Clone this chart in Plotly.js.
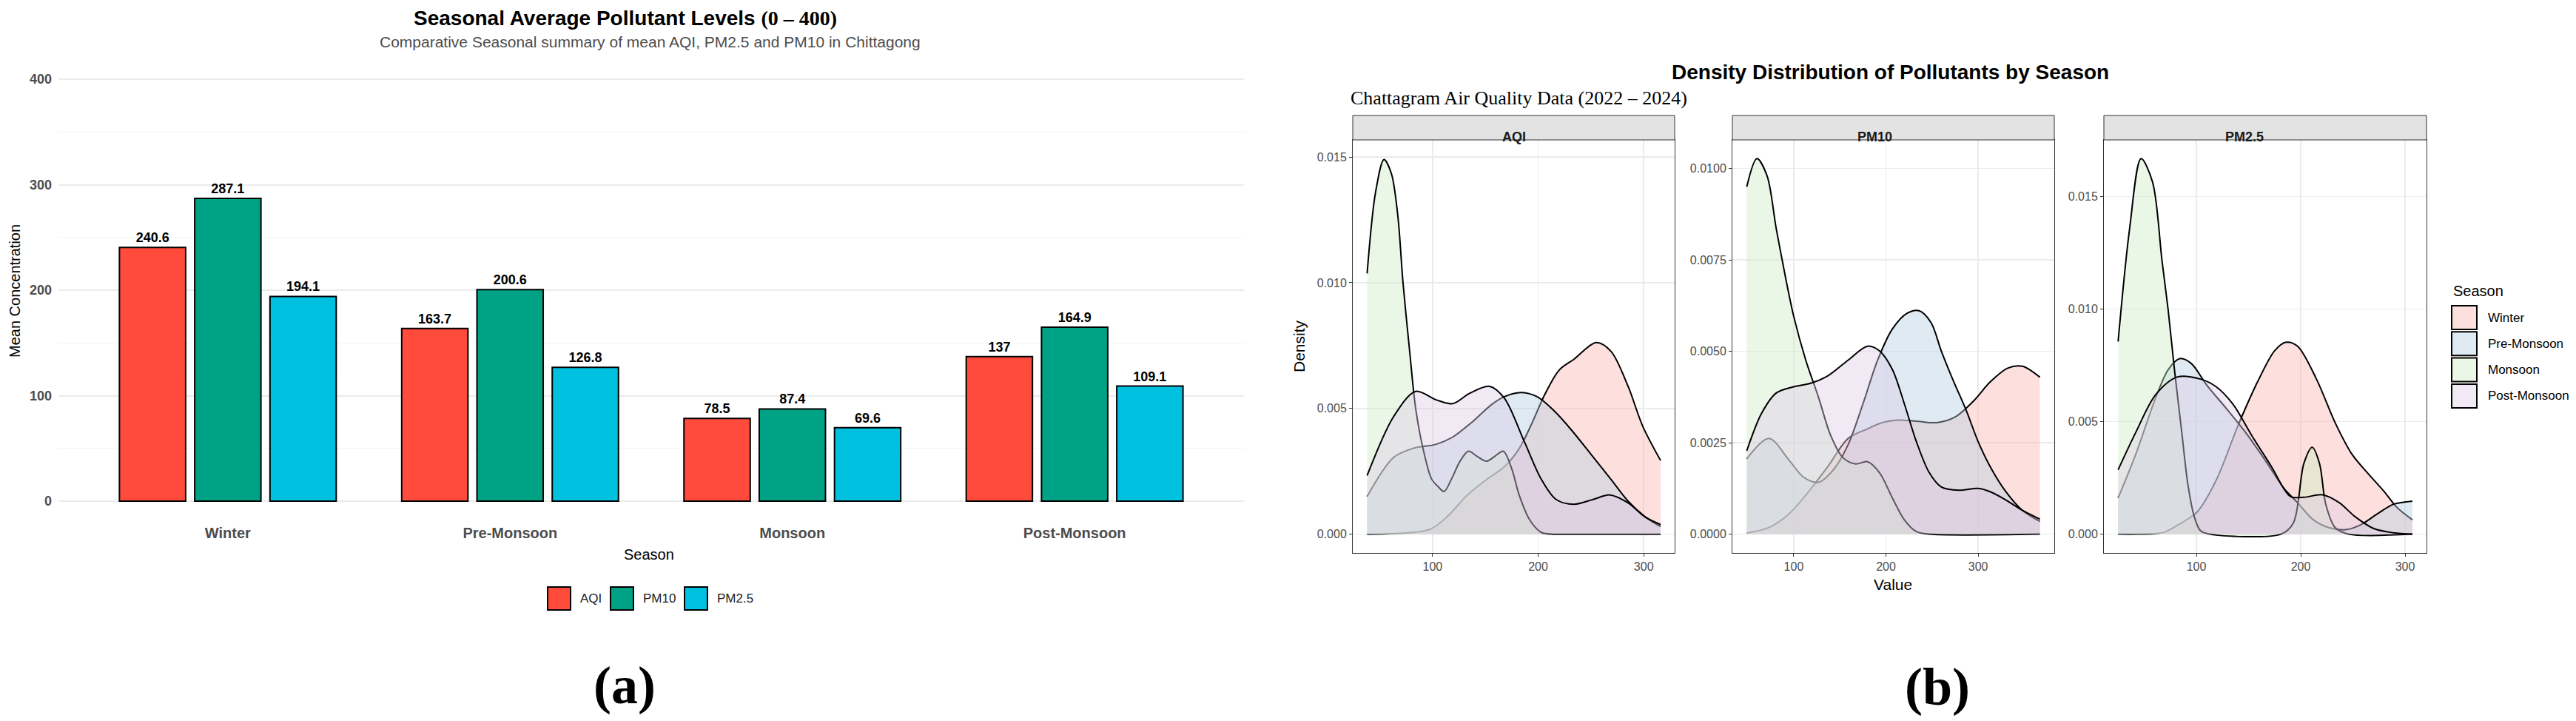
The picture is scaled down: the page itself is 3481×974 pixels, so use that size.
<!DOCTYPE html>
<html>
<head>
<meta charset="utf-8">
<script src="https://cdn.plot.ly/plotly-3.0.1.min.js"></script>
<style>
  html, body { margin: 0; padding: 0; background: #fff; }
  #chart { width: 3481px; height: 974px; }
</style>
</head>
<body>
<div id="chart"></div>
<script>
// ---- (a) seasonal means ----
const seasons = ["Winter", "Pre-Monsoon", "Monsoon", "Post-Monsoon"];
const aqiMean = [240.6, 163.7, 78.5, 137];
const pm10Mean = [287.1, 200.6, 87.4, 164.9];
const pm25Mean = [194.1, 126.8, 69.6, 109.1];
const pollutants = ["AQI", "PM10", "PM2.5"];
const barColors = ["#FF4B3B", "#00A286", "#00C0E0"];

// ---- (b) density curves ----
const aqiWinterX = [38, 75, 98, 114, 133, 152, 168, 182, 194, 206, 220, 234, 255, 269, 285, 299, 316];
const aqiWinterY = [0, 0.00005, 0.0002, 0.0007, 0.00156, 0.0022, 0.00268, 0.0034, 0.0044, 0.00553, 0.00653, 0.00696, 0.00762, 0.00727, 0.0059, 0.0043, 0.00293];
const aqiPreX = [38, 63, 82, 103, 119, 138, 156, 168, 182, 199, 215, 231, 250, 269, 285, 301, 316];
const aqiPreY = [0.0015, 0.00305, 0.00342, 0.00357, 0.00386, 0.00448, 0.00516, 0.00547, 0.00563, 0.00547, 0.00491, 0.00417, 0.00318, 0.00218, 0.00132, 0.0007, 0.0003];
const aqiMonX = [38, 46, 54, 61, 67, 72, 78, 84, 91, 99, 105, 111, 118, 126, 134, 142, 151, 159, 167, 175, 182, 192, 203, 215, 240, 316];
const aqiMonY = [0.01037, 0.0136, 0.0149, 0.01434, 0.0127, 0.0100, 0.0074, 0.005, 0.0034, 0.0022, 0.0019, 0.0017, 0.0022, 0.0029, 0.0033, 0.0031, 0.0029, 0.0031, 0.0033, 0.0026, 0.00156, 0.00057, 0.00007, 0, 0, 0];
const aqiPostX = [38, 63, 84, 103, 119, 135, 154, 168, 187, 203, 217, 234, 252, 268, 285, 301, 316];
const aqiPostY = [0.00233, 0.00467, 0.00568, 0.00535, 0.00519, 0.0056, 0.00588, 0.00541, 0.00367, 0.00218, 0.00138, 0.00119, 0.00138, 0.00156, 0.00125, 0.00069, 0.00038];

const pm10WinterX = [49, 73, 95, 116, 137, 159, 180, 196, 212, 233, 255, 276, 295, 313, 332, 348, 367];
const pm10WinterY = [0.00003, 0.00018, 0.00056, 0.00116, 0.00185, 0.00262, 0.00288, 0.00305, 0.00312, 0.00309, 0.00305, 0.00322, 0.00364, 0.00416, 0.00454, 0.00459, 0.00429];
const pm10PreX = [49, 73, 95, 111, 127, 143, 159, 175, 191, 207, 223, 236, 249, 260, 273, 287, 300, 313, 329, 348, 367];
const pm10PreY = [0.00206, 0.00262, 0.00202, 0.00155, 0.00142, 0.00176, 0.00245, 0.00356, 0.00476, 0.00561, 0.00604, 0.00611, 0.00578, 0.00501, 0.0042, 0.00339, 0.00253, 0.00185, 0.0012, 0.00065, 0.00035];
const pm10MonX = [49, 60, 71, 81, 92, 100, 113, 127, 140, 153, 167, 180, 193, 207, 220, 233, 247, 367];
const pm10MonY = [0.0095, 0.01027, 0.0098, 0.00835, 0.0069, 0.00595, 0.00476, 0.00373, 0.0027, 0.0021, 0.00192, 0.00198, 0.00168, 0.00099, 0.00039, 0.00007, 0, 0];
const pm10PostX = [49, 65, 81, 100, 119, 137, 159, 180, 193, 207, 220, 233, 247, 260, 279, 300, 313, 329, 348, 367];
const pm10PostY = [0.00228, 0.0033, 0.00386, 0.00403, 0.00413, 0.00433, 0.00476, 0.00514, 0.00501, 0.0045, 0.00356, 0.00253, 0.00168, 0.00129, 0.0012, 0.00125, 0.00116, 0.00095, 0.00065, 0.00041];

const pm25WinterX = [25, 45, 60, 70, 82, 101, 119, 141, 160, 175, 186, 197, 215, 233, 249, 264, 280, 292, 307];
const pm25WinterY = [0, 0, 0.00002, 0.0001, 0.0004, 0.001, 0.0024, 0.00495, 0.0069, 0.00815, 0.00853, 0.00835, 0.0069, 0.00495, 0.00356, 0.00272, 0.00189, 0.0012, 0.00064];
const pm25PreX = [25, 42, 61, 73, 84, 95, 110, 129, 147, 166, 184, 197, 212, 227, 243, 258, 274, 289, 307];
const pm25PreY = [0.00161, 0.00356, 0.00606, 0.00731, 0.0078, 0.00759, 0.00662, 0.00557, 0.00453, 0.00328, 0.00203, 0.0014, 0.00064, 0.00029, 0.0002, 0.00043, 0.00092, 0.00133, 0.00147];
const pm25MonX = [25, 36, 47, 58, 67, 73, 79, 86, 92, 98, 104, 113, 181, 193, 203, 211, 218, 224, 233, 246, 307];
const pm25MonY = [0.00856, 0.01357, 0.01669, 0.01565, 0.01218, 0.00995, 0.00731, 0.00453, 0.00217, 0.00078, 0.00015, 0, 0, 0.0005, 0.00314, 0.00386, 0.00314, 0.00133, 0.00029, 0, 0];
const pm25PostX = [25, 42, 61, 82, 104, 119, 135, 153, 172, 190, 203, 221, 237, 252, 270, 289, 307];
const pm25PostY = [0.00286, 0.00453, 0.0062, 0.00699, 0.00689, 0.00655, 0.00578, 0.00439, 0.003, 0.00168, 0.00164, 0.00175, 0.0014, 0.00078, 0.00025, 0.00006, 0];

const seasonFills = ["rgba(251,180,174,0.42)", "rgba(179,205,227,0.42)", "rgba(204,235,197,0.42)", "rgba(222,203,228,0.42)"];

// ---- helpers for placing things in pixels ----
const W = 3481, H = 974;
const SANS = "Liberation Sans, Arial, sans-serif";
const SERIF = "Liberation Serif, Times New Roman, serif";
const fx = p => p / W;
const fy = p => 1 - p / H;

const traces = [];

// grouped bars
const barSeries = [aqiMean, pm10Mean, pm25Mean];
barSeries.forEach((vals, i) => {
  traces.push({
    type: "bar", x: seasons, y: vals, name: pollutants[i],
    marker: { color: barColors[i], line: { color: "#000", width: 2 } },
    texttemplate: "%{y}", textposition: "outside", cliponaxis: false,
    textfont: { family: SANS, size: 18, color: "#000", weight: "bold" },
    xaxis: "x", yaxis: "y", showlegend: false, hoverinfo: "skip"
  });
});

// density facets
const facets = [
  { ax: "2", xs: [aqiWinterX, aqiPreX, aqiMonX, aqiPostX], ys: [aqiWinterY, aqiPreY, aqiMonY, aqiPostY] },
  { ax: "3", xs: [pm10WinterX, pm10PreX, pm10MonX, pm10PostX], ys: [pm10WinterY, pm10PreY, pm10MonY, pm10PostY] },
  { ax: "4", xs: [pm25WinterX, pm25PreX, pm25MonX, pm25PostX], ys: [pm25WinterY, pm25PreY, pm25MonY, pm25PostY] }
];
facets.forEach(f => {
  seasons.forEach((s, i) => {
    traces.push({
      type: "scatter", mode: "lines", x: f.xs[i], y: f.ys[i], name: s,
      line: { color: "#000", width: 2, shape: "spline", smoothing: 0.9 },
      fill: "tozeroy", fillcolor: seasonFills[i],
      xaxis: "x" + f.ax, yaxis: "y" + f.ax, showlegend: false, hoverinfo: "skip"
    });
  });
});

// facet panel geometry (pixels)
const panelX = [[1828, 2263], [2341, 2776], [2843, 3279]];
const panelTop = 189, panelBottom = 747, stripTop = 156;
const xRanges = [[24.4, 329.3], [33.4, 382.6], [11.35, 320.55]];
const yRanges = [[-0.000747, 0.01568], [-0.000514, 0.01078], [-0.000835, 0.01752]];
const yDticks = [0.005, 0.0025, 0.005];
const yFormats = [".3f", ".4f", ".3f"];

const layout = {
  width: W, height: H, autosize: false,
  margin: { l: 0, r: 0, t: 0, b: 0 },
  paper_bgcolor: "#fff", plot_bgcolor: "rgba(0,0,0,0)",
  font: { family: SANS, color: "#000" },
  showlegend: false,
  barmode: "group", bargap: 0.2, bargroupgap: 0.12,
  xaxis: {
    domain: [fx(79), fx(1681)], range: [-0.6, 3.6], type: "category",
    showgrid: false, zeroline: false, showline: false, ticks: "",
    ticklabelstandoff: 15,
    tickfont: { family: SANS, size: 20, color: "#4D4D4D", weight: "bold" }
  },
  yaxis: {
    domain: [fy(691.25), fy(92.75)], range: [-10, 410],
    tick0: 0, dtick: 100, zeroline: false, showline: false, ticks: "",
    gridcolor: "#EBEBEB", gridwidth: 2, ticklabelstandoff: 8,
    tickfont: { family: SANS, size: 18, color: "#4D4D4D", weight: "bold" },
    minor: { tick0: 0, dtick: 50, showgrid: true, gridcolor: "#F4F4F4", gridwidth: 1 }
  },
  shapes: [], annotations: []
};

facets.forEach((f, k) => {
  layout["xaxis" + f.ax] = {
    domain: [fx(panelX[k][0]), fx(panelX[k][1])], range: xRanges[k],
    anchor: "y" + f.ax, tickvals: [100, 200, 300],
    showline: true, mirror: true, linecolor: "#333", linewidth: 1,
    ticks: "outside", ticklen: 4, tickcolor: "#333",
    gridcolor: "#EBEBEB", gridwidth: 1.5, zeroline: false,
    tickfont: { family: SANS, size: 16, color: "#4D4D4D" }
  };
  layout["yaxis" + f.ax] = {
    domain: [fy(panelBottom), fy(panelTop)], range: yRanges[k],
    anchor: "x" + f.ax, tick0: 0, dtick: yDticks[k], tickformat: yFormats[k],
    showline: true, mirror: true, linecolor: "#333", linewidth: 1,
    ticks: "outside", ticklen: 4, tickcolor: "#333",
    gridcolor: "#EBEBEB", gridwidth: 1.5, zeroline: false,
    tickfont: { family: SANS, size: 16, color: "#4D4D4D" }
  };
  // strip
  layout.shapes.push({
    type: "rect", xref: "paper", yref: "paper",
    x0: fx(panelX[k][0]), x1: fx(panelX[k][1]), y0: fy(panelTop), y1: fy(stripTop),
    fillcolor: "#E3E3E3", line: { color: "#333", width: 1 }, layer: "above"
  });
  layout.annotations.push({
    xref: "paper", yref: "paper", showarrow: false,
    x: fx((panelX[k][0] + panelX[k][1]) / 2), y: fy((panelTop + stripTop) / 2),
    text: pollutants[k],
    font: { family: SANS, size: 18, color: "#1A1A1A", weight: "bold" }
  });
});

function note(text, x, y, size, extra) {
  layout.annotations.push(Object.assign({
    xref: "paper", yref: "paper", showarrow: false, text: text,
    x: fx(x), y: fy(y), xanchor: "center", yanchor: "middle",
    font: { family: SANS, size: size, color: "#000" }
  }, extra || {}));
}

// (a) texts
note('<b>Seasonal Average Pollutant Levels <span style="font-family:Liberation Serif">(0 – 400)</span></b>', 845, 24, 28);
note("Comparative Seasonal summary of mean AQI, PM2.5 and PM10 in Chittagong", 878, 57, 21,
  { font: { family: SANS, size: 21, color: "#4D4D4D" } });
note("Mean Concentration", 20, 393, 20, { textangle: -90 });
note("Season", 877, 749, 20);
note("(a)", 844, 926, 72, { font: { family: SERIF, size: 72, color: "#000", weight: "bold" } });

// (a) legend
const legKeyX = [740, 825, 925];
pollutants.forEach((p, i) => {
  layout.shapes.push({
    type: "rect", xref: "paper", yref: "paper",
    x0: fx(legKeyX[i]), x1: fx(legKeyX[i] + 31), y0: fy(824), y1: fy(793),
    fillcolor: barColors[i], line: { color: "#000", width: 2 }
  });
  note(p, legKeyX[i] + 42, 808, 17, { xanchor: "left", font: { family: SANS, size: 17, color: "#222" } });
});

// (b) texts
note("<b>Density Distribution of Pollutants by Season</b>", 2554, 98, 28);
note("Chattagram Air Quality Data (2022 – 2024)", 1823, 132, 26,
  { xanchor: "left", font: { family: SERIF, size: 26, color: "#000" } });
note("Value", 2558, 789, 21);
note("Density", 1755, 468, 21, { textangle: -90 });
note("(b)", 2618, 928, 72, { font: { family: SERIF, size: 72, color: "#000", weight: "bold" } });

// (b) legend
note("Season", 3313, 393, 20, { xanchor: "left" });
seasons.forEach((s, i) => {
  const top = 412 + i * 35.3;
  layout.shapes.push({
    type: "rect", xref: "paper", yref: "paper",
    x0: fx(3313), x1: fx(3347), y0: fy(top + 33), y1: fy(top + 1),
    fillcolor: seasonFills[i], line: { color: "#000", width: 2 }
  });
  note(s, 3360, top + 17, 17, { xanchor: "left" });
});

Plotly.newPlot("chart", traces, layout, { displayModeBar: false, staticPlot: true });
</script>
</body>
</html>
